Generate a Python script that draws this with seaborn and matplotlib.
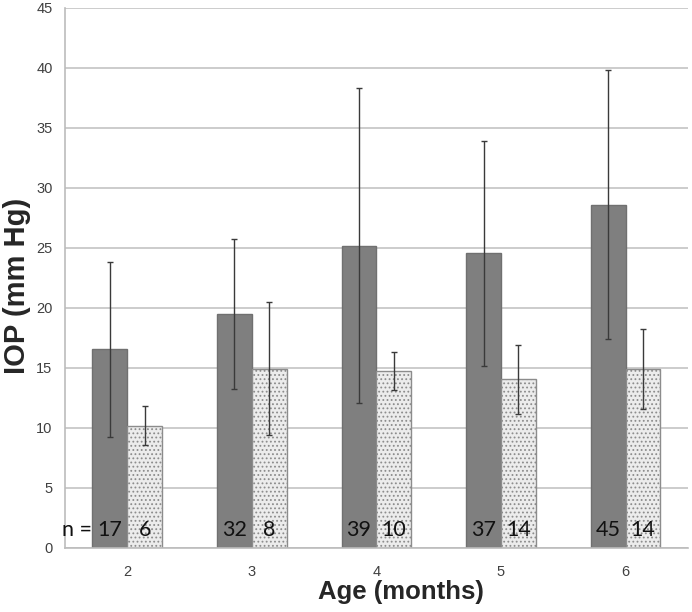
import matplotlib
matplotlib.use("Agg")
import matplotlib.pyplot as plt
import numpy as np
import pandas as pd
import seaborn as sns

# values
ages = ["2", "3", "4", "5", "6"]
dark_mean = [16.55, 19.5, 25.2, 24.55, 28.6]
dark_sd = [7.3, 6.25, 13.1, 9.35, 11.2]
light_mean = [10.2, 14.95, 14.75, 14.05, 14.9]
light_sd = [1.65, 5.55, 1.6, 2.85, 3.35]
dark_n = [17, 32, 39, 37, 45]
light_n = [6, 8, 10, 14, 14]

df = pd.DataFrame({
    "age": ages * 2,
    "grp": ["A"] * 5 + ["B"] * 5,
    "iop": dark_mean + light_mean,
})

sns.set_style("white")
plt.rcParams["hatch.color"] = "#9a9a9a"
plt.rcParams["hatch.linewidth"] = 0.8
plt.rcParams["font.family"] = ["Liberation Sans", "DejaVu Sans"]

fig = plt.figure(figsize=(6.92, 6.12), dpi=100)
ax = fig.add_axes([0.094, 0.1046, 0.9, 0.8824])

sns.barplot(data=df, x="age", y="iop", hue="grp", hue_order=["A", "B"],
            palette=["#7f7f7f", "#ececec"], width=0.56, gap=0,
            legend=False, ax=ax, zorder=2)

bars = list(ax.containers)
edge = ["#707070", "#8c8c8c"]
for k, cont in enumerate(bars):
    for p in cont:
        p.set_edgecolor(edge[k])
        p.set_linewidth(1.0)
        if k == 1:
            p.set_hatch("....")

sds = [dark_sd, light_sd]
ns = [dark_n, light_n]
for k, cont in enumerate(bars):
    xs = [p.get_x() + p.get_width() / 2 for p in cont]
    hs = [p.get_height() for p in cont]
    ax.errorbar(xs, hs, yerr=sds[k], fmt="none", ecolor="#3a3a3a",
                elinewidth=1.0, capsize=2.5, capthick=1.0, zorder=4)
    for x, n in zip(xs, ns[k]):
        ax.text(x, 1.5, str(n), ha="center", va="center", fontsize=15.5,
                family=["Lato", "DejaVu Sans"], color="#111111", zorder=5)

first = bars[0][0]
ax.text(first.get_x(), 1.5, "n =", ha="right", va="center",
        fontsize=15.5, family=["Lato", "DejaVu Sans"], color="#111111", zorder=5)

ax.set_ylim(0, 45)
ax.set_xlim(-0.5, 4.5)
ax.set_yticks(np.arange(0, 46, 5))
ax.yaxis.grid(True, color="#c4c4c4", linewidth=1.2, zorder=0)
ax.set_axisbelow(True)
for s in ["top", "right"]:
    ax.spines[s].set_visible(False)
ax.spines["left"].set_color("#bcbcbc")
ax.spines["bottom"].set_color("#bcbcbc")
ax.spines["left"].set_linewidth(1.2)
ax.spines["bottom"].set_linewidth(1.2)
ax.tick_params(axis="y", length=4, width=1.2, color="#bcbcbc", pad=5,
               labelsize=10.5, labelcolor="#404040")
ax.tick_params(axis="x", length=0, pad=12, labelsize=10.5, labelcolor="#404040")

ax.set_xlabel("Age (months)", fontsize=18.5, fontweight="bold", va="center")
ax.xaxis.set_label_coords(0.539, -0.081)
ax.set_ylabel("IOP (mm Hg)", fontsize=21, fontweight="bold", va="center")
ax.yaxis.set_label_coords(-0.077, 0.485)

fig.savefig("out.png", dpi=100)
